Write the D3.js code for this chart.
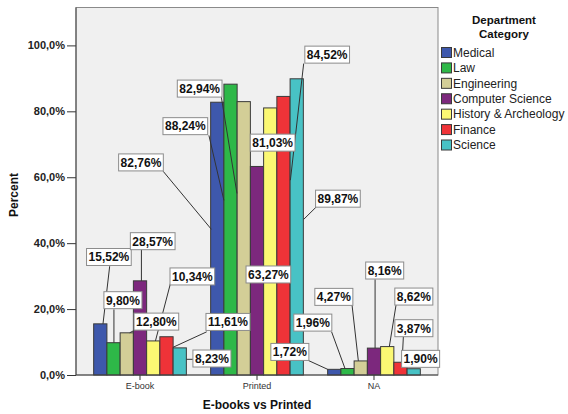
<!DOCTYPE html>
<html>
<head>
<meta charset="utf-8">
<script src="https://cdn.jsdelivr.net/npm/d3@7"></script>
<style>
  html, body { margin: 0; padding: 0; background: #ffffff; }
  svg { display: block; font-family: "Liberation Sans", Arial, sans-serif; }
</style>
</head>
<body>
<svg id="chart" width="568" height="414"></svg>
<script>
// Share of answers per department (percent of each department)
const categories = ["E-book", "Printed", "NA"];
const departments = ["Medical", "Law", "Engineering", "Computer Science", "History & Archeology", "Finance", "Science"];
const deptColors = ["#3E58AC", "#2EB848", "#D3CE97", "#7C287D", "#FBF873", "#EF3338", "#48C2C5"];

const medical           = [15.52, 82.76, 1.72];
const law               = [9.80, 88.24, 1.96];
const engineering       = [12.80, 82.94, 4.27];
const computerScience   = [28.57, 63.27, 8.16];
const historyArcheology = [10.34, 81.03, 8.62];
const finance           = [11.61, 84.52, 3.87];
const science           = [8.23, 89.87, 1.90];

const seriesValues = [medical, law, engineering, computerScience, historyArcheology, finance, science];
const yTicks = [0, 20, 40, 60, 80, 100];
const legendTitle = ["Department", "Category"];

// Callout placement per [department][category]:
// box = [x offset from bar centre in px, y in percent],
// leader from/to = same kind of pairs; null means no visible leader.
const calloutLayout = [
  [ {box: [8.6, 35.8],   from: [9.4, 33.0],   to: [2.7, 15.52]},
    {box: [-76.3, 64.5], from: [-54.1, 61.8], to: [-5.9, 44.2]},
    {box: [-44.4, 7.0],  from: [-26.6, 4.5],  to: [-6.6, 1.72]} ],
  [ {box: [9.4, 22.7],   from: [0.4, 19.9],   to: [0.4, 9.80]},
    {box: [-45.2, 75.5], from: [-21.6, 72.7], to: [-6.6, 53.0]},
    {box: [-34.7, 15.9], from: [-15.9, 13.1], to: [-2.5, 1.96]} ],
  [ {box: [29.6, 16.2],  from: [7.9, 13.6],   to: [2.9, 12.80]},
    {box: [-44.1, 86.9], from: [-22.4, 84.3], to: [-6.8, 55.1]},
    {box: [-26.9, 23.7], from: [-8.7, 21.2],  to: [-2.4, 4.27]} ],
  [ {box: [12.7, 40.6],  from: [1.4, 38.1],   to: [1.4, 28.57]},
    {box: [11.4, 30.5],  from: null,          to: null},
    {box: [10.7, 31.7],  from: [1.1, 29.0],   to: [1.1, 8.16]} ],
  [ {box: [39.1, 29.9],  from: [17.4, 28.0],  to: [2.2, 10.34]},
    {box: [2.4, 70.5],   from: null,          to: null},
    {box: [26.6, 23.8],  from: [8.8, 21.2],   to: [2.1, 8.62]} ],
  [ {box: [61.5, 16.1],  from: [40.2, 13.1],  to: [6.5, 8.4]},
    {box: [43.7, 97.2],  from: [20.2, 94.5],  to: [6.9, 59.1]},
    {box: [13.4, 14.2],  from: [2.9, 11.6],   to: [1.6, 3.87]} ],
  [ {box: [32.2, 5.0],   from: [13.2, 4.76],  to: [6.6, 4.76]},
    {box: [41.2, 53.5],  from: [19.6, 51.0],  to: [6.9, 47.2]},
    {box: [6.9, 4.9],    from: null,          to: null} ]
];

const svg = d3.select("#chart");
const plot = {left: 76, right: 438, top: 7.5, bottom: 375};

const x0 = d3.scaleBand()
  .domain(categories)
  .range([plot.left, plot.right])
  .paddingInner(0.2077)
  .paddingOuter(0.151);

const x1 = d3.scaleBand()
  .domain(departments)
  .range([0, x0.bandwidth()]);

const y = d3.scaleLinear()
  .domain([0, 111.5])
  .range([plot.bottom, plot.top]);

const color = d3.scaleOrdinal().domain(departments).range(deptColors);

const pct1 = v => d3.format(".1f")(v).replace(".", ",") + "%";
const pct2 = v => d3.format(".2f")(v).replace(".", ",") + "%";

// Plot background
svg.append("rect")
  .attr("x", plot.left).attr("y", plot.top)
  .attr("width", plot.right - plot.left).attr("height", plot.bottom - plot.top)
  .attr("fill", "#F0F0F0")
  .attr("stroke", "#8a8a8a")
  .attr("stroke-width", 1);

// Bars
const records = [];
departments.forEach((dep, di) => {
  categories.forEach((cat, ci) => {
    records.push({dep, di, cat, ci, value: seriesValues[di][ci]});
  });
});

const barCentre = d => x0(d.cat) + x1(d.dep) + x1.bandwidth() / 2;

svg.append("g").selectAll("rect")
  .data(records)
  .join("rect")
  .attr("x", d => x0(d.cat) + x1(d.dep))
  .attr("y", d => y(d.value))
  .attr("width", x1.bandwidth())
  .attr("height", d => y(0) - y(d.value))
  .attr("fill", d => color(d.dep))
  .attr("stroke", "#3a3a3a")
  .attr("stroke-width", 1);

// Axes
const yAxis = d3.axisLeft(y)
  .tickValues(yTicks)
  .tickFormat(pct1)
  .tickSize(9)
  .tickSizeOuter(0)
  .tickPadding(2);

const gy = svg.append("g")
  .attr("transform", `translate(${plot.left},0)`)
  .call(yAxis);
gy.select(".domain").remove();
gy.selectAll(".tick line").attr("stroke", "#333");
gy.selectAll(".tick text")
  .attr("fill", "#222")
  .style("font-size", "11px")
  .style("font-weight", "bold")
  .style("font-family", "'Liberation Sans', Arial, sans-serif");

const xAxis = d3.axisBottom(x0)
  .tickSize(5)
  .tickSizeOuter(0)
  .tickPadding(3);

const gx = svg.append("g")
  .attr("transform", `translate(0,${plot.bottom})`)
  .call(xAxis);
gx.select(".domain").remove();
gx.selectAll(".tick line").attr("stroke", "#333");
gx.selectAll(".tick text")
  .attr("fill", "#333")
  .style("font-size", "9px")
  .style("font-family", "'Liberation Sans', Arial, sans-serif");

// Axis lines
svg.append("line")
  .attr("x1", plot.left).attr("x2", plot.left)
  .attr("y1", plot.top).attr("y2", plot.bottom)
  .attr("stroke", "#444");
svg.append("line")
  .attr("x1", plot.left).attr("x2", plot.right)
  .attr("y1", plot.bottom).attr("y2", plot.bottom)
  .attr("stroke", "#444");

// Axis titles
svg.append("text")
  .attr("transform", `translate(18,195) rotate(-90)`)
  .attr("text-anchor", "middle")
  .style("font-size", "12px")
  .style("font-weight", "bold")
  .attr("fill", "#111")
  .text("Percent");

svg.append("text")
  .attr("x", (plot.left + plot.right) / 2)
  .attr("y", 408.5)
  .attr("text-anchor", "middle")
  .style("font-size", "12px")
  .style("font-weight", "bold")
  .attr("fill", "#111")
  .text("E-books vs Printed");

// Value callouts: leaders first, boxes on top
const callouts = records.map(d => {
  const lay = calloutLayout[d.di][d.ci];
  const cx = barCentre(d);
  return {
    d,
    bx: cx + lay.box[0], by: y(lay.box[1]),
    leader: lay.from ? [cx + lay.from[0], y(lay.from[1]), cx + lay.to[0], y(lay.to[1])] : null
  };
});

svg.append("g").selectAll("line")
  .data(callouts.filter(c => c.leader))
  .join("line")
  .attr("x1", c => c.leader[0]).attr("y1", c => c.leader[1])
  .attr("x2", c => c.leader[2]).attr("y2", c => c.leader[3])
  .attr("stroke", "#333")
  .attr("stroke-width", 1);

const labelG = svg.append("g");
callouts.forEach(c => {
  const g = labelG.append("g");
  const rect = g.append("rect");
  const t = g.append("text")
    .attr("x", c.bx)
    .attr("y", c.by)
    .attr("dy", "0.36em")
    .attr("text-anchor", "middle")
    .style("font-size", "12px")
    .style("font-weight", "bold")
    .attr("fill", "#111")
    .text(pct2(c.d.value));
  const w = t.node().getComputedTextLength() + 4;
  const h = 17;
  rect.attr("x", c.bx - w / 2).attr("y", c.by - h / 2)
    .attr("width", w).attr("height", h)
    .attr("fill", "#ffffff")
    .attr("stroke", "#8c8c8c")
    .attr("stroke-width", 1);
});

// Legend
const legend = svg.append("g");
legend.selectAll("text.title")
  .data(legendTitle)
  .join("text")
  .attr("class", "title")
  .attr("x", 504)
  .attr("y", (d, i) => 24 + i * 13.5)
  .attr("text-anchor", "middle")
  .style("font-size", "11.5px").style("font-weight", "bold")
  .attr("fill", "#111")
  .text(d => d);

const legendRow = d3.scalePoint().domain(departments).range([52.5, 145]);
const rows = legend.selectAll("g.row")
  .data(departments)
  .join("g")
  .attr("class", "row")
  .attr("transform", d => `translate(441,${legendRow(d)})`);
rows.append("rect")
  .attr("x", 0.5).attr("y", -5)
  .attr("width", 10).attr("height", 10)
  .attr("fill", d => color(d))
  .attr("stroke", "#3a3a3a")
  .attr("stroke-width", 1);
rows.append("text")
  .attr("x", 12).attr("y", 0)
  .attr("dy", "0.36em")
  .style("font-size", "12px")
  .attr("fill", "#222")
  .text(d => d);
</script>
</body>
</html>
